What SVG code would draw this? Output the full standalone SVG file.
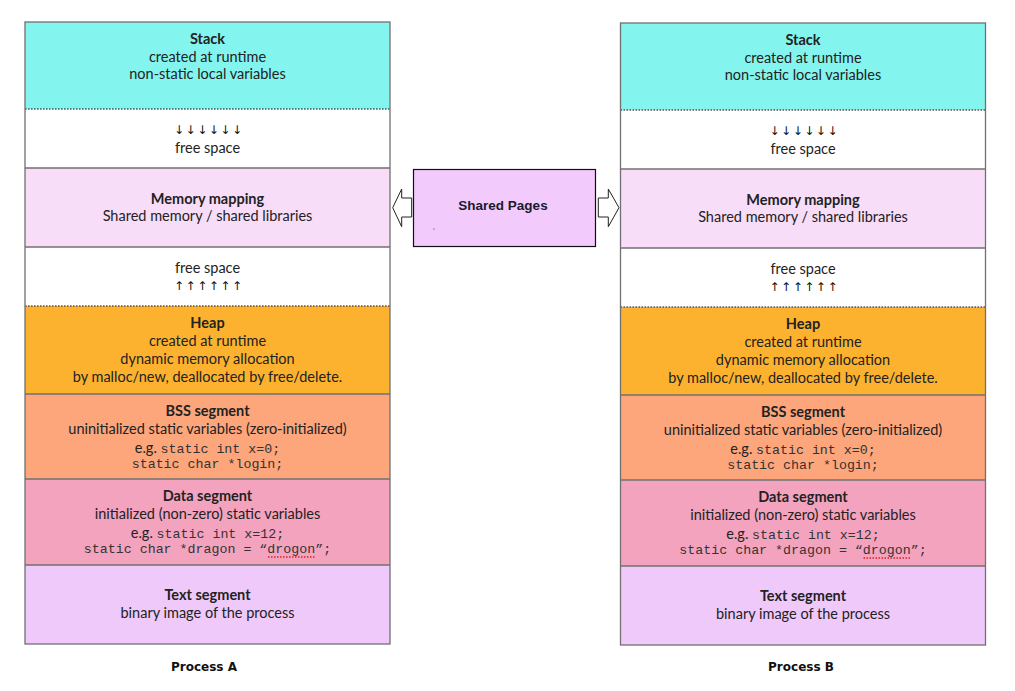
<svg xmlns="http://www.w3.org/2000/svg" width="1015" height="691" viewBox="0 0 1015 691">
<defs>
<style>
.t{font-family:Lato,"Open Sans","Noto Sans",sans-serif;font-size:14.5px;fill:#222;text-anchor:middle}
.b{font-weight:bold}
.m{font-family:"Liberation Mono","Courier New",monospace;font-size:13.3px;fill:#333}
.ar{font-family:"DejaVu Sans",sans-serif;font-size:12px;fill:#111;text-anchor:middle}
.sep{stroke:#707070;stroke-width:1.3;fill:none}
.dot{stroke:#555;stroke-width:1.3;stroke-dasharray:1.6 1.4;fill:none}
.lbl{font-family:"DejaVu Sans",Verdana,sans-serif;font-size:12px;font-weight:bold;fill:#111;text-anchor:middle}
.conn{fill:#fff;stroke:#222;stroke-width:1}
</style>
<g id="column">
<g id="stack"><rect x="25" y="22" width="365" height="87" fill="#84F5EE"/>
<text class="t b" x="207.5" y="44">Stack</text>
<text class="t" x="207.5" y="62">created at runtime</text>
<text class="t" x="207.5" y="79">non-static local variables</text></g>
<g id="free1"><rect x="25" y="109" width="365" height="59" fill="#fff"/>
<text class="ar" x="208" y="134" textLength="68" lengthAdjust="spacing">↓↓↓↓↓↓</text>
<text class="t" x="207.5" y="153">free space</text></g>
<g id="mmap"><rect x="25" y="168" width="365" height="79" fill="#F8DDF8"/>
<text class="t b" x="207.5" y="204">Memory mapping</text>
<text class="t" x="207.5" y="221">Shared memory / shared libraries</text></g>
<g id="free2"><rect x="25" y="247" width="365" height="59" fill="#fff"/>
<text class="t" x="207.5" y="273">free space</text>
<text class="ar" x="208" y="290" textLength="68" lengthAdjust="spacing">↑↑↑↑↑↑</text></g>
<g id="heap"><rect x="25" y="306" width="365" height="88" fill="#FDB22F"/>
<text class="t b" x="207.5" y="328">Heap</text>
<text class="t" x="207.5" y="346">created at runtime</text>
<text class="t" x="207.5" y="364">dynamic memory allocation</text>
<text class="t" x="207.5" y="382">by malloc/new, deallocated by free/delete.</text></g>
<g id="bss"><rect x="25" y="394" width="365" height="85" fill="#FDA57B"/>
<text class="t b" x="207.5" y="416">BSS segment</text>
<text class="t" x="207.5" y="434">uninitialized static variables (zero-initialized)</text>
<text class="t" x="207.5" y="453">e.g. <tspan class="m">static int x=0;</tspan></text>
<text class="t m" x="207.5" y="468">static char *login;</text></g>
<g id="data"><rect x="25" y="479" width="365" height="86" fill="#F4A3BE"/>
<text class="t b" x="207.5" y="501">Data segment</text>
<text class="t" x="207.5" y="519">initialized (non-zero) static variables</text>
<text class="t" x="207.5" y="538">e.g. <tspan class="m">static int x=12;</tspan></text>
<text class="t m" x="207.5" y="553">static char *dragon = “drogon”;</text>
<line x1="268" y1="557" x2="315" y2="557" stroke="#e02020" stroke-width="1.3" stroke-dasharray="1.5 1.5"/></g>
<g id="text"><rect x="25" y="565" width="365" height="79" fill="#F0C9FB"/>
<text class="t b" x="207.5" y="600">Text segment</text>
<text class="t" x="207.5" y="618">binary image of the process</text></g>
<line class="dot" x1="25" y1="109" x2="390" y2="109"/>
<line class="sep" x1="25" y1="168" x2="390" y2="168"/>
<line class="sep" x1="25" y1="247" x2="390" y2="247"/>
<line class="dot" x1="25" y1="306" x2="390" y2="306"/>
<line class="sep" x1="25" y1="394" x2="390" y2="394"/>
<line class="sep" x1="25" y1="479" x2="390" y2="479"/>
<line class="sep" x1="25" y1="565" x2="390" y2="565"/>
<rect class="sep" x="25" y="22" width="365" height="622"/>
</g>
</defs>
<rect width="1015" height="691" fill="#fff"/>
<g id="processA">
<use href="#column"/>
<text class="lbl" x="204" y="671">Process A</text>
</g>
<g id="processB">
<use href="#column" transform="translate(595.5,1)"/>
<text class="lbl" x="801" y="671">Process B</text>
</g>
<g id="sharedPages">
<rect x="413.5" y="169.5" width="182" height="77" fill="#F2CAFC" stroke="#111" stroke-width="1.2"/>
<text x="503" y="210" font-family="'Liberation Sans',Arial,sans-serif" font-size="13.5" font-weight="bold" fill="#1a1a2e" text-anchor="middle">Shared Pages</text>
<circle cx="434" cy="229" r="0.6" fill="#333"/>
</g>
<g id="connectors">
<path class="conn" d="M411.7,198 L401.7,198 L401.7,189 L392.7,207.7 L401.7,226.7 L401.7,217 L411.7,217 Z"/>
<path class="conn" d="M598.3,198 L608.3,198 L608.3,189 L619,207.7 L608.3,226.7 L608.3,217 L598.3,217 Z"/>
</g>
</svg>
